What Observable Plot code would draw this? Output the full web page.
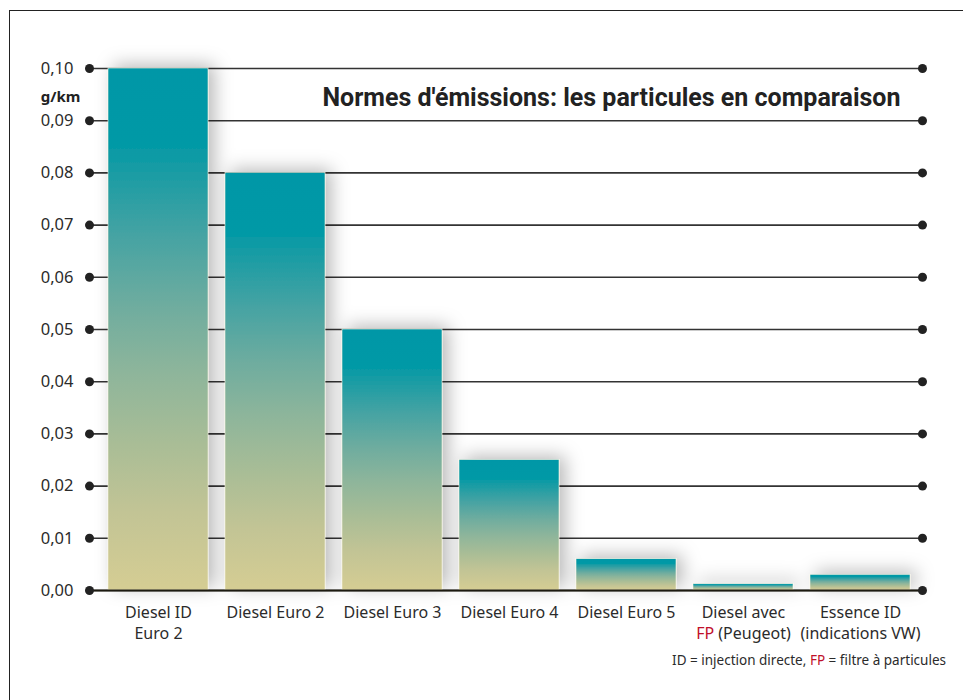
<!DOCTYPE html>
<html>
<head>
<meta charset="utf-8">
<script src="https://cdn.jsdelivr.net/npm/d3@7"></script>
<script src="https://cdn.jsdelivr.net/npm/@observablehq/plot@0.6"></script>
<style>
  html, body { margin: 0; padding: 0; background: #fff; }
  #wrap { position: relative; width: 963px; height: 700px; overflow: hidden; font-family: "Noto Sans", sans-serif; }
  #frame { position: absolute; left: 9px; top: 10px; width: 960px; height: 700px; border-left: 1.5px solid #222; border-top: 1.5px solid #222; }
  #chart { position: absolute; left: 0; top: 0; }
  #note { position: absolute; right: 17px; top: 651px; font-size: 13.5px; color: #2b2b2b; white-space: nowrap; }
  .red { color: #c0102a; }
</style>
</head>
<body>
<div id="wrap">
  <div id="frame"></div>
  <div id="chart"></div>
  <div id="note">ID = injection directe, <span class="red">FP</span> = filtre à particules</div>
</div>
<script>
const categories = ["Diesel ID\nEuro 2", "Diesel Euro 2", "Diesel Euro 3", "Diesel Euro 4", "Diesel Euro 5", "Diesel avec\nFP (Peugeot)", "Essence ID\n(indications VW)"];
const values = [0.10, 0.08, 0.05, 0.025, 0.006, 0.0012, 0.003];
const yTicks = [0, 0.01, 0.02, 0.03, 0.04, 0.05, 0.06, 0.07, 0.08, 0.09, 0.10];
const title = "Normes d'émissions: les particules en comparaison";
const unit = "g/km";

const data = categories.map((c, i) => ({cat: c, v: values[i]}));

const chart = Plot.plot({
  width: 963,
  height: 650,
  marginTop: 68,
  marginBottom: 60,
  marginLeft: 89,
  marginRight: 41,
  style: {fontFamily: "Noto Sans", fontSize: "16.5px", color: "#2b2b2b", background: "transparent", overflow: "visible"},
  x: {domain: categories, paddingInner: 0.147, paddingOuter: 0.127, align: 0.6, axis: null},
  y: {domain: [0, 0.1], ticks: yTicks, tickFormat: d => d.toFixed(2).replace(".", ","), label: null, tickSize: 0, tickPadding: 16},
  marks: [
    Plot.ruleY(yTicks, {stroke: "#333", strokeWidth: 1.6}),
    Plot.barY(data, {x: "cat", y: "v", fill: "#0098a6"}),
    Plot.ruleY([0], {stroke: "#1c1a10", strokeWidth: 2.2}),
    Plot.dot(yTicks, {y: d => d, frameAnchor: "left", r: 4.5, fill: "#222", stroke: "none"}),
    Plot.dot(yTicks, {y: d => d, frameAnchor: "right", r: 4.5, fill: "#222", stroke: "none"}),
    Plot.text(data, {x: "cat", text: "cat", frameAnchor: "bottom", dy: 12.5, lineAnchor: "top", lineHeight: 1.33, fontSize: 16, fill: "#2b2b2b"}),
    Plot.text([title], {frameAnchor: "top-right", dx: -22, dy: 29, lineAnchor: "middle", textAnchor: "end", fontSize: 25, fontWeight: 700, fill: "#222", fontFamily: "Roboto"}),
    Plot.text([unit], {frameAnchor: "top-left", dx: -29, dy: 29, lineAnchor: "middle", textAnchor: "middle", fontSize: 15, fontWeight: 700, fill: "#222"})
  ]
});

document.getElementById("chart").appendChild(chart);

const svg = d3.select(chart);
svg.insert("defs", ":first-child").html(`
  <linearGradient id="barGrad" x1="0" y1="0" x2="0" y2="1">
    <stop offset="0" stop-color="#0097a7"/>
    <stop offset="0.14" stop-color="#0099a6"/>
    <stop offset="0.2" stop-color="#1a9ca4"/>
    <stop offset="0.32" stop-color="#45a3a3"/>
    <stop offset="0.45" stop-color="#6dac9f"/>
    <stop offset="0.58" stop-color="#8db59b"/>
    <stop offset="0.72" stop-color="#a9bd96"/>
    <stop offset="0.85" stop-color="#c2c495"/>
    <stop offset="1" stop-color="#d5cd93"/>
  </linearGradient>
  <filter id="shadow" x="-40%" y="-40%" width="180%" height="180%">
    <feDropShadow dx="6" dy="-3" stdDeviation="9" flood-color="#000" flood-opacity="0.28"/>
  </filter>
`);
svg.selectAll("g[aria-label='bar']").attr("fill", "url(#barGrad)").attr("filter", "url(#shadow)")
  .selectAll("rect").attr("fill", "url(#barGrad)").attr("stroke", "#f3f0dc").attr("stroke-width", 0.6);

svg.selectAll("tspan").each(function() {
  if (this.textContent === "FP (Peugeot)") {
    this.textContent = "";
    d3.select(this).append("tspan").attr("fill", "#c0102a").text("FP");
    d3.select(this).append("tspan").text(" (Peugeot)");
  }
});
</script>
</body>
</html>
